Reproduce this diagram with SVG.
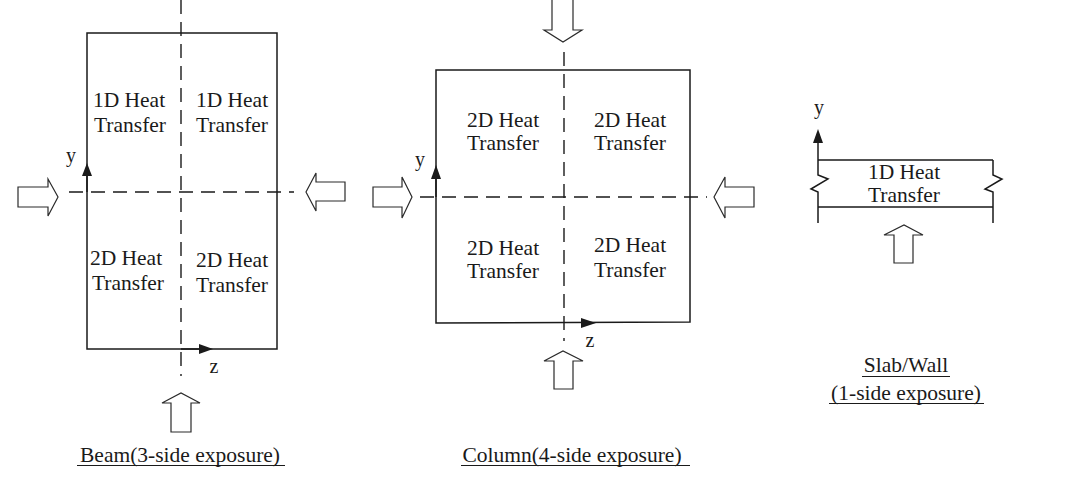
<svg xmlns="http://www.w3.org/2000/svg" width="1066" height="482" viewBox="0 0 1066 482">
<style>
.ln{stroke:#1a1a1a;stroke-width:1.5;fill:none}
.ds{stroke:#1a1a1a;stroke-width:1.4;fill:none;stroke-dasharray:14 8}
.ar{stroke:#2a2a2a;stroke-width:1.2;fill:#fff;stroke-linejoin:miter}
.hd{fill:#1a1a1a;stroke:none}
.t{font-family:"Liberation Serif","Times New Roman",serif;font-size:21.5px;fill:#1a1a1a;text-anchor:middle}
.ax{font-family:"Liberation Serif","Times New Roman",serif;font-size:20px;fill:#1a1a1a;text-anchor:middle}
.ul{stroke:#1a1a1a;stroke-width:1.2}
</style>
<rect width="1066" height="482" fill="#fff"/>

<g id="beam">
  <rect class="ln" x="87" y="33" width="190" height="316"/>
  <text class="t" x="129" y="107">1D Heat</text>
  <text class="t" x="130" y="132">Transfer</text>
  <text class="t" x="232" y="107">1D Heat</text>
  <text class="t" x="232" y="132">Transfer</text>
  <text class="t" x="126" y="265">2D Heat</text>
  <text class="t" x="128" y="290">Transfer</text>
  <text class="t" x="232" y="267">2D Heat</text>
  <text class="t" x="232" y="292">Transfer</text>
  <text class="ax" x="71" y="162">y</text>
  <text class="ax" x="214" y="373">z</text>
  <text class="t" x="180" y="462">Beam(3-side exposure)</text>
  <line class="ul" x1="77" y1="465.5" x2="285" y2="465.5"/>
</g>

<g id="column">
  <path class="ln" d="M436,70 H690 V322 L436,323 Z"/>
  <text class="t" x="503" y="127">2D Heat</text>
  <text class="t" x="503" y="150">Transfer</text>
  <text class="t" x="630" y="127">2D Heat</text>
  <text class="t" x="630" y="150">Transfer</text>
  <text class="t" x="503" y="255">2D Heat</text>
  <text class="t" x="503" y="278">Transfer</text>
  <text class="t" x="630" y="252">2D Heat</text>
  <text class="t" x="630" y="277">Transfer</text>
  <text class="ax" x="420" y="166">y</text>
  <text class="ax" x="590" y="347">z</text>
  <text class="t" x="572" y="462">Column(4-side exposure)</text>
  <line class="ul" x1="461" y1="465.5" x2="690" y2="465.5"/>
</g>

<g id="slab">
  <path class="ln" d="M818,160 H993 M818,207 H993"/>
  <path class="ln" d="M818,160 V175 L828,179 L811,189 L818,192 V223"/>
  <path class="ln" d="M993,160 V175 L1002,179 L985,189 L993,192 V223"/>
  <text class="t" x="904" y="179">1D Heat</text>
  <text class="t" x="904" y="202">Transfer</text>
  <text class="ax" x="819" y="114">y</text>
  <text class="t" x="906" y="372">Slab/Wall</text>
  <line class="ul" x1="862" y1="376.5" x2="950" y2="376.5"/>
  <text class="t" x="906" y="400">(1-side exposure)</text>
  <line class="ul" x1="829" y1="403.5" x2="984" y2="403.5"/>
</g>

<g id="connectors">
  <!-- beam axes and centre lines -->
  <line class="ds" x1="181" y1="0" x2="181" y2="376"/>
  <line class="ds" x1="69" y1="192" x2="294" y2="192"/>
  <line class="ln" x1="87" y1="192" x2="87" y2="172"/>
  <polygon class="hd" points="87,163 82,176 92,176"/>
  <line class="ln" x1="181" y1="349" x2="202" y2="349"/>
  <polygon class="hd" points="213,349 199,344 199,354"/>
  <!-- beam heat arrows -->
  <polygon class="ar" points="18,187 48,187 48,179 58,197 48,216 48,207 18,207"/>
  <polygon class="ar" points="345,182 316,182 316,173 306,192 316,211 316,201 345,201"/>
  <polygon class="ar" points="171,432 171,403 162,403 181,393 200,403 191,403 191,432"/>

  <!-- column axes and centre lines -->
  <line class="ds" x1="564" y1="52" x2="564" y2="341"/>
  <line class="ds" x1="420" y1="197" x2="707" y2="197"/>
  <line class="ln" x1="436" y1="197" x2="436" y2="176"/>
  <polygon class="hd" points="436,165 431,179 441,179"/>
  <polygon class="hd" points="596,323 581,318 581,328"/>
  <!-- column heat arrows -->
  <polygon class="ar" points="552,-1 573,-1 573,30 582,30 563,42 544,30 552,30"/>
  <polygon class="ar" points="373,187 402,187 402,177 412,197 402,218 402,207 373,207"/>
  <polygon class="ar" points="754,187 725,187 725,177 714,197 725,218 725,207 754,207"/>
  <polygon class="ar" points="554,389 554,361 544,361 563,351 583,361 573,361 573,389"/>

  <!-- slab axis and heat arrow -->
  <line class="ln" x1="818" y1="160" x2="818" y2="140"/>
  <polygon class="hd" points="818,129 813,143 823,143"/>
  <polygon class="ar" points="894,263 894,235 884,235 904,225 923,235 913,235 913,263"/>
</g>
</svg>
